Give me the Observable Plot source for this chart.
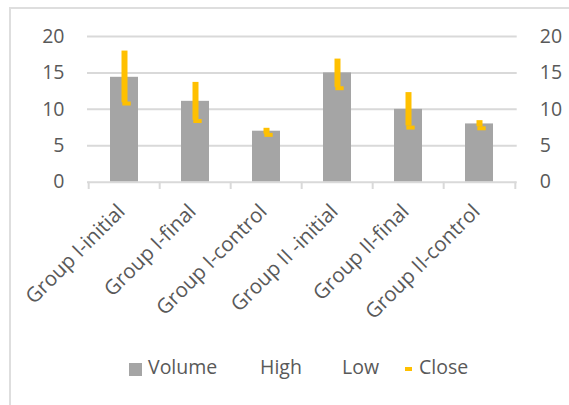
<!DOCTYPE html>
<html>
<head>
<meta charset="utf-8">
<script src="https://cdn.jsdelivr.net/npm/d3@7"></script>
<script src="https://cdn.jsdelivr.net/npm/@observablehq/plot@0.6"></script>
<style>
  html, body { margin: 0; padding: 0; background: #fff; }
  #wrap { position: relative; width: 569px; height: 405px; overflow: hidden; font-family: "Open Sans", sans-serif; color: #595959; }
  #frame { position: absolute; left: 9px; top: 7px; width: 700px; height: 500px; border-left: 2px solid #dedede; border-top: 2px solid #dedede; box-sizing: border-box; }
  #chart { position: absolute; left: 0; top: 0; }
  .lg { position: absolute; font-size: 19.5px; line-height: normal; white-space: nowrap; }
  .sw { position: absolute; }
</style>
</head>
<body>
<div id="wrap">
  <div id="frame"></div>
  <div id="chart"></div>
  <div id="legend"></div>
</div>
<script>
const categories = ["Group I-initial", "Group I-final", "Group I-control", "Group II -initial", "Group II-final", "Group II-control"];
const volume = [14.4, 11.1, 7.0, 15.0, 10.0, 8.0];
const high   = [18.0, 13.7, 7.4, 16.9, 12.3, 8.45];
const low    = [10.9, 8.5, 6.6, 13.0, 7.7, 7.6];
const close  = [10.8, 8.4, 6.5, 12.9, 7.5, 7.4];
const yTicks = [0, 5, 10, 15, 20];
const legendLabels = ["Volume", "High", "Low", "Close"];

const data = categories.map((c, i) => ({cat: c, volume: volume[i], high: high[i], low: low[i], close: close[i]}));

const W = 569, H = 340;
const mL = 87, mR = 52.3, mT = 36, mB = H - 181.7;
const step = (W - mL - mR) / categories.length;
const bw = step * 0.4;
const orange = "#ffc000";
const grey = "#a5a5a5";
const gridC = "#d9d9d9";

const chart = Plot.plot({
  width: W, height: H,
  marginLeft: mL, marginRight: mR, marginTop: mT, marginBottom: mB,
  style: {fontFamily: "'Open Sans', sans-serif", fontSize: "19.5px", color: "#595959", background: "transparent", overflow: "visible"},
  x: {domain: categories, paddingInner: 0.6, paddingOuter: 0.3, label: null},
  y: {domain: [0, 20], label: null},
  marks: [
    Plot.gridY(yTicks.filter(d => d > 0), {stroke: gridC, strokeOpacity: 1, strokeWidth: 2}),
    Plot.barY(data, {x: "cat", y: "volume", fill: grey}),
    Plot.ruleY([0], {stroke: gridC, strokeWidth: 2}),
    Plot.ruleX(categories, {x: d => d, y1: 0, y2: -1, dx: -step / 2, stroke: gridC, strokeWidth: 2}),
    Plot.ruleX(categories.slice(-1), {x: d => d, y1: 0, y2: -1, dx: step / 2, stroke: gridC, strokeWidth: 2}),
    Plot.ruleX(data, {x: "cat", y1: "low", y2: "high", stroke: orange, strokeWidth: 6}),
    Plot.tickY(data, {x: "cat", y: "close", stroke: orange, strokeWidth: 4, dx: 2.5, insetLeft: (bw - 9) / 2, insetRight: (bw - 9) / 2}),
    Plot.axisY({anchor: "left", ticks: yTicks, tickSize: 0, tickPadding: 23, label: null}),
    Plot.axisY({anchor: "right", ticks: yTicks, tickSize: 0, tickPadding: 22.6, label: null}),
    Plot.axisX({anchor: "bottom", tickSize: 0, tickRotate: -45, tickPadding: 26, dx: -3, fontSize: 20.5, label: null})
  ]
});
document.getElementById("chart").appendChild(chart);

// legend
const lg = document.getElementById("legend");
function add(html) { lg.insertAdjacentHTML("beforeend", html); }
const textTop = 376 - 20.8 - 2.6;
add(`<div class="sw" style="left:129px;top:363px;width:12.5px;height:12.5px;background:${grey}"></div>`);
add(`<div class="lg" style="left:148px;top:${textTop}px">${legendLabels[0]}</div>`);
add(`<div class="lg" style="left:260px;top:${textTop}px">${legendLabels[1]}</div>`);
add(`<div class="lg" style="left:342px;top:${textTop}px">${legendLabels[2]}</div>`);
add(`<div class="sw" style="left:405px;top:366.5px;width:7px;height:4px;background:${orange}"></div>`);
add(`<div class="lg" style="left:419px;top:${textTop}px">${legendLabels[3]}</div>`);
</script>
</body>
</html>
